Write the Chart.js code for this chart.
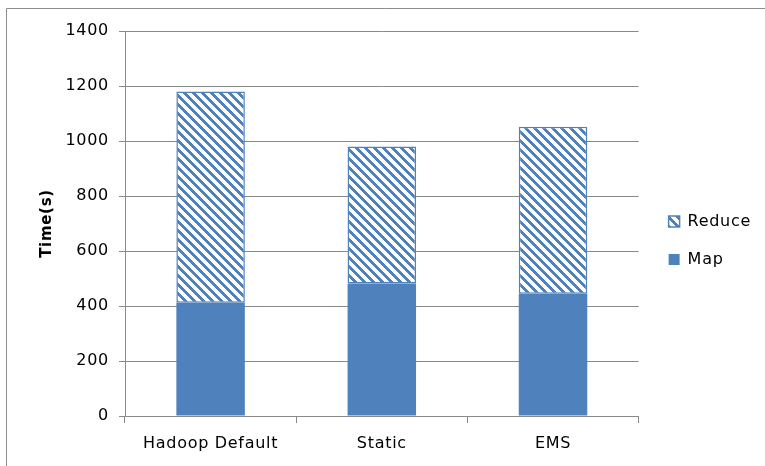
<!DOCTYPE html>
<html>
<head>
<meta charset="utf-8">
<script src="https://cdn.jsdelivr.net/npm/chart.js@4.4.0/dist/chart.umd.min.js"></script>
<style>
  html, body { margin: 0; padding: 0; background: #ffffff; }
  #wrap { width: 765px; height: 466px; position: relative; }
  canvas { display: block; }
</style>
</head>
<body>
<div id="wrap"><canvas id="c" width="765" height="466"></canvas></div>
<script>
// Job phase durations (seconds) per scheduling mode
const categories = ['Hadoop Default', 'Static', 'EMS'];
const mapTime = [412, 482, 445];
const reduceTime = [768, 498, 607];
const yTicks = [0, 200, 400, 600, 800, 1000, 1200, 1400];

const BLUE = '#4F81BD';
const GRID = '#898989';
const FONT = 'DejaVu Sans';
const FONT_SIZE = 16;
const TRACKING = '0.7px';

// Downward-diagonal hatch tile
function hatchPattern(color) {
  const n = 9;
  const tile = document.createElement('canvas');
  tile.width = n; tile.height = n;
  const g = tile.getContext('2d');
  g.fillStyle = '#ffffff';
  g.fillRect(0, 0, n, n);
  g.fillStyle = color;
  for (let y = 0; y < n; y++) {
    for (let x = 0; x < n; x++) {
      if ((((x - y) % n) + n) % n < 4) g.fillRect(x, y, 1, 1);
    }
  }
  return g.createPattern(tile, 'repeat');
}

// Slightly tracked-out lettering for all chart text (set after each canvas reset)
const trackingPlugin = {
  id: 'tracking',
  beforeUpdate(chart) { chart.ctx.letterSpacing = TRACKING; },
  beforeLayout(chart) { chart.ctx.letterSpacing = TRACKING; },
  beforeDraw(chart) { chart.ctx.letterSpacing = TRACKING; }
};

// Nudge the legend block: a little right of the plot, centred slightly higher
const legendPlacePlugin = {
  id: 'legendPlace',
  afterLayout(chart) {
    const lg = chart.legend;
    if (!lg) return;
    lg.left += 8;
    lg.right += 8;
    lg.bottom -= 16;
    lg.height = lg.bottom - lg.top;
  }
};

// Outer frame (top and left edges)
const framePlugin = {
  id: 'frame',
  beforeDraw(chart) {
    const ctx = chart.ctx;
    ctx.save();
    ctx.strokeStyle = '#8c8c8c';
    ctx.lineWidth = 1;
    ctx.beginPath();
    ctx.moveTo(6.5, chart.height);
    ctx.lineTo(6.5, 8.5);
    ctx.lineTo(chart.width, 8.5);
    ctx.stroke();
    ctx.restore();
  }
};

const canvas = document.getElementById('c');

new Chart(canvas, {
  type: 'bar',
  data: {
    labels: categories,
    datasets: [
      {
        label: 'Map',
        data: mapTime,
        backgroundColor: BLUE,
        borderWidth: 0,
        barPercentage: 0.4,
        categoryPercentage: 1.0
      },
      {
        label: 'Reduce',
        data: reduceTime,
        backgroundColor: hatchPattern(BLUE),
        borderColor: BLUE,
        borderWidth: 1.5,
        borderSkipped: false,
        barPercentage: 0.4,
        categoryPercentage: 1.0
      }
    ]
  },
  options: {
    responsive: false,
    maintainAspectRatio: false,
    animation: false,
    devicePixelRatio: 1,
    layout: { padding: { left: 0, top: 31, right: 12, bottom: 0 } },
    plugins: {
      tooltip: { enabled: false },
      legend: {
        position: 'right',
        reverse: true,
        labels: {
          font: { family: FONT, size: FONT_SIZE },
          color: '#000000',
          boxWidth: 11,
          boxHeight: 11,
          padding: 22
        }
      }
    },
    scales: {
      x: {
        stacked: true,
        afterFit(scale) {
          scale.height = 50;
        },
        grid: {
          offset: true,
          drawOnChartArea: false,
          drawTicks: true,
          tickLength: 7,
          color: GRID
        },
        border: { color: GRID, width: 1 },
        ticks: {
          font: { family: FONT, size: FONT_SIZE },
          color: '#000000',
          padding: 11,
          maxRotation: 0,
          autoSkip: false
        }
      },
      y: {
        stacked: true,
        min: 0,
        max: 1400,
        afterBuildTicks(scale) {
          scale.ticks = yTicks.map(v => ({ value: v }));
        },
        afterFit(scale) {
          scale.width = 125;
        },
        grid: {
          color: GRID,
          tickLength: 6
        },
        border: { color: GRID, width: 1 },
        ticks: {
          font: { family: FONT, size: FONT_SIZE },
          color: '#000000',
          padding: 10,
          autoSkip: false,
          callback: v => String(v)
        },
        title: {
          display: true,
          text: 'Time(s)',
          font: { family: FONT, size: 15, weight: 'bold' },
          color: '#000000',
          padding: { top: 38, bottom: 0 }
        }
      }
    }
  },
  plugins: [trackingPlugin, legendPlacePlugin, framePlugin]
});
</script>
</body>
</html>
